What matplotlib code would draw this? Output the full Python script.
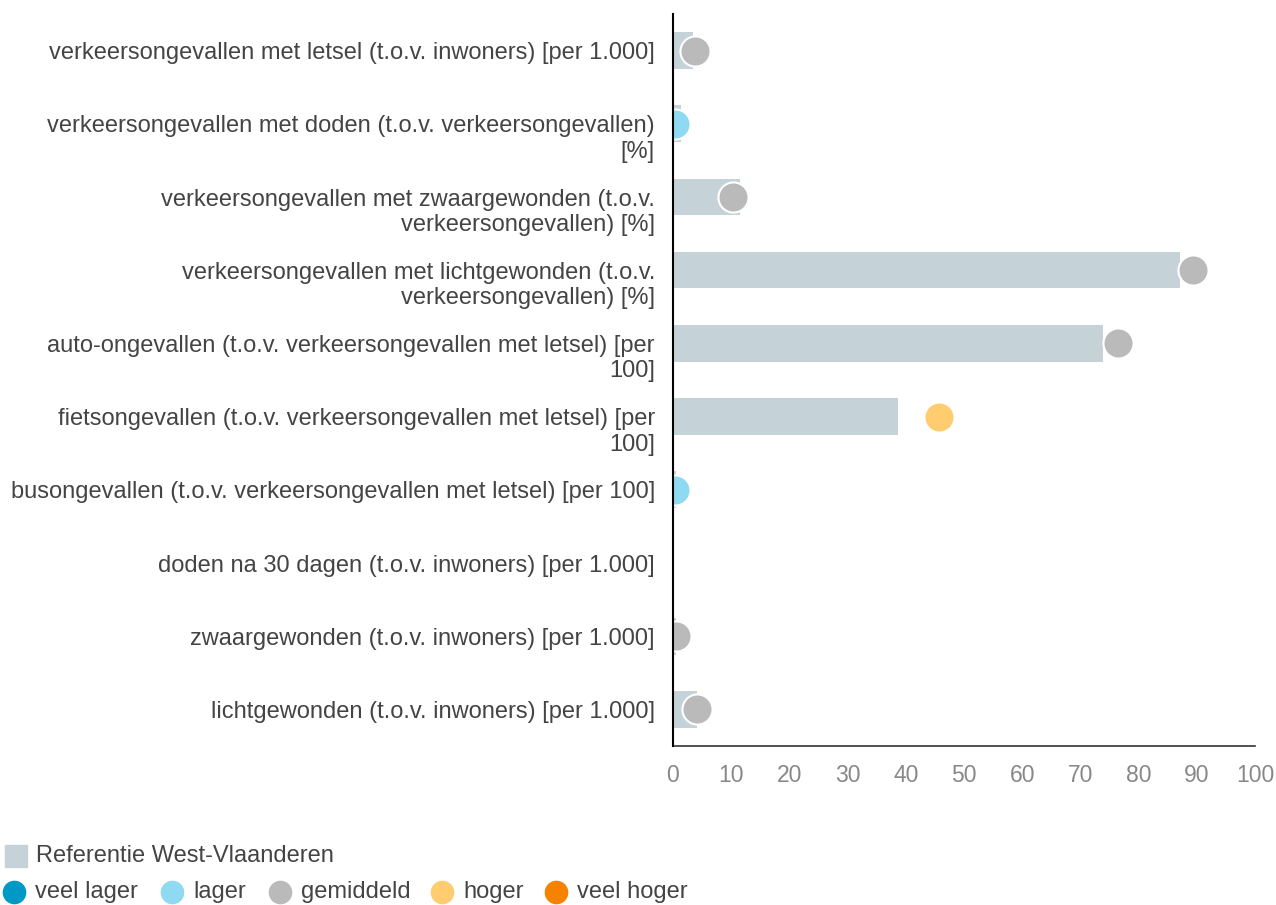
import matplotlib.pyplot as plt
from matplotlib.lines import Line2D
from matplotlib.patches import Rectangle
from matplotlib.transforms import ScaledTranslation

plt.rcParams['font.family'] = ['Liberation Sans', 'DejaVu Sans']

labels = [
    "verkeersongevallen met letsel (t.o.v. inwoners) [per 1.000]",
    "verkeersongevallen met doden (t.o.v. verkeersongevallen)\n[%]",
    "verkeersongevallen met zwaargewonden (t.o.v.\nverkeersongevallen) [%]",
    "verkeersongevallen met lichtgewonden (t.o.v.\nverkeersongevallen) [%]",
    "auto-ongevallen (t.o.v. verkeersongevallen met letsel) [per\n100]",
    "fietsongevallen (t.o.v. verkeersongevallen met letsel) [per\n100]",
    "busongevallen (t.o.v. verkeersongevallen met letsel) [per 100]",
    "doden na 30 dagen (t.o.v. inwoners) [per 1.000]",
    "zwaargewonden (t.o.v. inwoners) [per 1.000]",
    "lichtgewonden (t.o.v. inwoners) [per 1.000]",
]
# reference (West-Vlaanderen) bars
reference = [3.4, 1.4, 11.5, 87.1, 73.9, 38.7, 0.5, 0.05, 0.5, 4.1]
# municipality values (dots); None = no dot
values = [3.8, 0.4, 10.3, 89.3, 76.5, 45.7, 0.3, None, 0.5, 4.1]
classes = ["gemiddeld", "lager", "gemiddeld", "gemiddeld", "gemiddeld",
           "hoger", "lager", None, "gemiddeld", "gemiddeld"]

class_colors = {
    "veel lager": "#0099c6",
    "lager": "#8fdaf0",
    "gemiddeld": "#bababa",
    "hoger": "#ffcc70",
    "veel hoger": "#f58300",
}
bar_color = "#c5d3d9"
x_ticks = list(range(0, 101, 10))

fig = plt.figure(figsize=(12.76, 9.05), dpi=100)
ax = fig.add_axes([673 / 1276, 1 - 746 / 905, (1255 - 673) / 1276, (746 - 14) / 905])

ypos = list(range(len(labels)))
ax.barh(ypos, reference, height=0.5, color=bar_color, zorder=1)

for y, v, c in zip(ypos, values, classes):
    if v is None:
        continue
    ax.scatter(v, y, s=470, color=class_colors[c], edgecolors="white",
               linewidths=1.5, zorder=3)

ax.set_xlim(0, 100)
ax.set_ylim(len(labels) - 0.5, -0.5)
ax.set_xticks(x_ticks)
ax.set_yticks(ypos)
ax.set_yticklabels(labels)

ax.tick_params(axis="y", length=0, pad=13, labelsize=17, labelcolor="#444444")
ax.tick_params(axis="x", length=0, pad=13, labelsize=16.5, labelcolor="#888888")

off = ScaledTranslation(0, 6 / 72, fig.dpi_scale_trans)
for lbl in ax.get_yticklabels():
    lbl.set_va("top")
    lbl.set_transform(lbl.get_transform() + off)

for s in ["top", "right"]:
    ax.spines[s].set_visible(False)
ax.spines["left"].set_color("black")
ax.spines["left"].set_linewidth(1.5)
ax.spines["left"].set_zorder(4)
ax.spines["bottom"].set_color("#333333")
ax.spines["bottom"].set_linewidth(1.2)

# legend
fig.add_artist(Rectangle((5 / 1276, 1 - 867 / 905), 22 / 1276, 22 / 905,
                         transform=fig.transFigure, color=bar_color))
fig.text(36 / 1276, 1 - 856 / 905, "Referentie West-Vlaanderen", fontsize=17,
         color="#444444", va="center", ha="left")

legend_x = [14, 172, 280, 442, 556]
for x, name in zip(legend_x, class_colors):
    fig.add_artist(Line2D([x / 1276], [1 - 892 / 905], transform=fig.transFigure,
                          marker="o", markersize=16, color=class_colors[name],
                          linestyle="none"))
    fig.text((x + 21) / 1276, 1 - 892 / 905, name, fontsize=17,
             color="#444444", va="center", ha="left")

fig.savefig("out.png", dpi=100)
